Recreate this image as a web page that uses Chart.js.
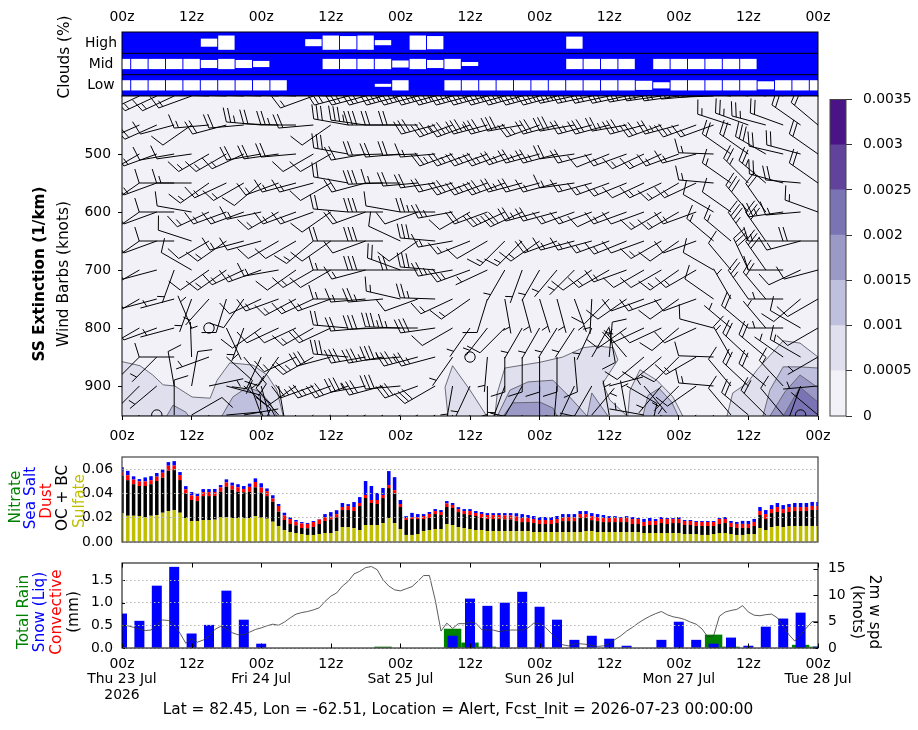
<!DOCTYPE html>
<html>
<head>
<meta charset="utf-8">
<title>Alert forecast</title>
<script src="https://cdn.jsdelivr.net/npm/chart.js@4"></script>
<style>
  html, body { margin: 0; background: #fff; }
  #page { position: relative; width: 918px; height: 730px; overflow: hidden; }
  canvas { position: absolute; left: 0; top: 0; }
</style>
</head>
<body>
<div id="page">
  <canvas id="clouds" width="918" height="730"></canvas>
  <canvas id="section" width="918" height="730"></canvas>
  <canvas id="colorbar" width="918" height="730"></canvas>
  <canvas id="aerosol" width="918" height="730"></canvas>
  <canvas id="precip" width="918" height="730"></canvas>
</div>
<script>
// cloud fraction every 3 h, percent
const cloudHours = [0,3,6,9,12,15,18,21,24,27,30,33,36,39,42,45,48,51,54,57,60,63,66,69,72,75,78,81,84,87,90,93,96,99,102,105,108,111,114,117,120];
const cloudHigh = [0,0,0,0,0,38,67,0,0,0,0,33,67,62,67,24,0,67,62,0,0,0,0,0,0,0,57,0,0,0,0,0,0,0,0,0,0,0,0,0,0];
const cloudMid = [48,48,48,48,48,38,48,38,29,0,0,0,48,48,48,48,33,48,38,48,19,0,0,0,0,0,48,48,48,48,0,48,48,48,48,48,48,0,0,0,0];
const cloudLow = [48,48,48,48,48,48,48,48,48,48,0,0,0,0,0,14,48,0,0,48,48,48,48,48,48,48,48,48,48,48,43,29,48,48,48,48,48,38,48,48,48];

// extinction contours, [hour, hPa]
const ext05West = [[0,858],[3.1,865],[5.3,881],[7.1,898],[9.1,900],[12.1,919],[15.2,921],[16.4,890],[18.6,860],[22.6,864],[25,881],[26.7,907],[27.8,952],[0,952]];
const ext10WestA = [[7.7,952],[8.8,933],[11,945],[11.5,952]];
const ext10WestB = [[17.2,952],[19.1,919],[21.6,902],[23.8,910],[25.5,929],[26.7,952]];
const ext05Mid = [[56.2,952],[55.7,902],[57,865],[60,907],[62.9,952]];
const ext05Hump = [[64.3,952],[64.7,912],[66,869],[72.1,859],[76,850],[79.5,834],[81.9,831],[84.7,834],[85.5,855],[82.9,895],[84.1,924],[87.1,952]];
const ext10Hump = [[64.7,952],[66.9,907],[70,893],[74.3,890],[77.2,919],[80.2,952]];
const ext10HumpB = [[80.2,952],[81,912],[83.8,952]];
const ext15Hump = [[65.7,952],[67.4,929],[72.1,928],[74.3,938],[75,952]];
const ext05Blob = [[87.2,952],[87.6,907],[89.3,872],[92.2,890],[95,919],[96.7,952]];
const ext10Blob = [[89.8,952],[90.7,916],[92.6,904],[94.8,928],[95.9,952]];
const ext05East = [[104.3,952],[105.3,912],[107.8,895],[109.5,872],[114,822],[116.9,826],[120,850],[120,952]];
const ext10East = [[110.5,952],[111.7,907],[114,867],[116.9,867],[120,869],[120,952]];
const ext15East = [[111.7,952],[114.3,910],[116.9,881],[120,903],[120,952]];
const ext20East = [[114,952],[116.9,902],[120,928],[120,952]];
const extBackground = [[0,400],[120,400],[120,952],[0,952]];

// wind barbs on a 3 h / 50 hPa grid: compass bearing of the staff and speed in knots
const dir400 = [245,245,245,245,250,272,272,272,272,272,272,250,272,255,255,255,255,255,255,255,255,255,255,255,255,255,258,258,258,258,260,262,262,265,268,275,278,280,285,290,300];
const spd400 = [15,15,15,15,15,15,15,20,20,20,20,15,20,30,30,30,35,35,35,35,35,35,35,35,35,35,35,30,30,30,30,25,25,25,20,15,15,15,15,15,15];
const dir450 = [245,246,246,255,235,265,255,265,275,272,270,265,235,280,278,270,270,270,255,250,250,255,255,260,250,255,260,255,255,260,255,250,255,250,250,288,290,285,290,305,310];
const spd450 = [15,15,20,10,10,15,20,20,25,20,25,20,10,30,35,30,20,20,30,35,35,35,30,30,25,30,30,25,30,25,30,30,25,25,15,15,25,25,20,20,20];
const dir500 = [240,240,250,260,262,240,240,245,260,262,265,240,240,280,260,268,265,268,265,250,250,250,250,252,255,255,262,255,248,250,245,245,250,255,272,305,305,300,283,285,305];
const spd500 = [15,15,15,10,10,15,15,15,20,20,20,10,10,30,20,20,20,20,15,25,25,25,25,25,25,25,20,20,10,15,15,15,15,15,15,20,20,30,20,20,20];
const dir550 = [235,235,250,270,270,235,245,240,230,250,255,255,240,280,255,268,270,265,262,255,250,250,250,255,255,255,262,255,250,248,245,245,240,245,275,305,315,310,285,275,305];
const spd550 = [10,10,15,10,15,15,15,15,10,15,15,15,10,20,20,30,15,20,20,20,30,25,30,25,20,15,15,15,15,15,10,15,15,15,15,15,25,25,20,20,20];
const dir600 = [235,235,250,270,280,245,250,250,258,240,250,250,235,275,250,270,280,250,270,260,240,250,245,245,255,255,250,250,245,250,250,240,240,250,300,305,320,325,262,265,290];
const spd600 = [10,10,10,10,10,15,15,15,15,15,15,15,10,20,20,30,10,10,25,25,10,20,25,30,25,20,15,15,10,15,10,15,15,15,10,10,30,20,25,15,15];
const dir650 = [235,235,250,270,288,240,235,255,255,240,240,230,235,270,250,270,295,235,275,260,248,240,225,225,235,250,255,255,250,248,250,240,235,250,310,310,325,325,270,255,270];
const spd650 = [10,10,10,10,10,10,15,15,10,10,10,15,10,20,10,30,10,10,30,15,15,10,15,15,15,20,15,15,15,15,10,15,10,10,15,15,35,30,15,15,20];
const dir700 = [240,240,255,200,300,235,235,245,250,260,235,240,240,270,255,270,290,270,275,260,250,245,210,200,210,220,225,235,240,250,240,240,235,240,300,320,335,325,270,245,255];
const spd700 = [10,10,10,5,10,10,15,15,15,15,10,15,10,15,15,30,20,20,30,25,25,5,5,5,5,5,5,10,15,15,10,10,15,15,10,10,30,30,10,10,10];
const dir750 = [240,240,255,255,200,222,197,215,245,250,242,245,250,270,265,265,283,250,272,245,235,197,170,165,163,165,160,183,225,235,250,250,235,250,305,330,325,320,270,230,240];
const spd750 = [10,10,10,5,5,5,10,10,10,15,15,15,15,15,15,25,15,10,25,15,15,10,5,5,5,5,5,5,10,10,10,15,10,10,10,5,25,20,5,10,10];
const dir800 = [240,240,250,255,337,0,155,200,235,245,245,240,245,275,265,268,272,270,262,240,215,218,225,210,210,212,213,205,170,235,245,245,230,245,285,310,310,320,270,300,240];
const spd800 = [10,10,10,5,5,0,5,5,10,10,10,15,20,20,20,30,35,15,30,10,5,5,10,5,5,5,5,5,10,10,10,10,10,10,10,5,20,5,5,10,10];
const dir850 = [225,225,225,270,358,250,132,140,205,215,245,240,255,275,260,260,265,255,255,215,0,185,180,180,180,180,175,30,5,320,230,230,225,240,272,330,313,310,305,300,240];
const spd850 = [5,5,5,10,5,5,10,10,10,10,15,25,30,30,30,35,35,35,25,5,0,5,10,10,10,10,10,5,10,5,10,10,10,15,10,15,20,20,5,15,5];
const dir900 = [225,225,230,350,10,78,105,130,165,170,235,250,250,250,260,255,265,250,240,190,205,180,200,210,180,185,205,210,75,120,140,220,225,235,275,320,313,310,317,200,265];
const spd900 = [5,5,5,10,10,5,10,10,10,10,15,25,25,30,35,30,30,30,30,5,5,5,5,10,10,10,10,10,5,10,5,5,5,10,15,10,20,20,15,10,5];
const dir950 = [225,225,0,0,60,200,85,80,340,320,225,230,235,235,240,235,240,240,235,200,200,190,190,200,190,190,200,40,350,350,280,220,225,230,200,320,310,315,320,0,310];
const spd950 = [5,5,0,10,10,5,10,5,5,10,20,25,25,25,25,25,25,25,25,5,5,5,5,5,5,5,5,5,5,5,5,5,5,5,5,10,20,20,10,0,5];
const barbLevels = [400,450,500,550,600,650,700,750,800,850,900,950];
const barbDirs = [dir400,dir450,dir500,dir550,dir600,dir650,dir700,dir750,dir800,dir850,dir900,dir950];
const barbSpeeds = [spd400,spd450,spd500,spd550,spd600,spd650,spd700,spd750,spd800,spd850,spd900,spd950];

const colorbarTicks = ['0','0.0005','0.001','0.0015','0.002','0.0025','0.003','0.0035'];
const colorbarSteps = [0,0.0005,0.001,0.0015,0.002,0.0025,0.003,0.0035];

// hourly aerosol extinction in 1e-3 /km
const sulfate = [23.6,21.6,21.6,21.4,20.3,21.6,22.2,24.1,25.5,26.3,
  24.1,19.7,17.3,17.3,18.1,18.1,18.4,20.6,20.3,19.7,
  19.7,19.5,19.7,21.4,20.0,19.2,16.7,13.2,9.9,8.2,
  7.4,6.6,5.8,5.8,6.6,7.4,7.4,9.0,12.3,12.3,
  11.5,9.9,14,14,14,15.6,19.7,15.6,10.7,5.8,
  5.8,6.6,9,9.9,10.7,10.7,14.8,14,12.3,11.5,
  10.7,9.9,9.9,9,9,9,9,9,9,9,
  9,8.2,8.2,8.2,8.2,8.2,8.2,8.2,8.2,8.2,
  9,9,8.2,8.2,8.2,8.2,8.2,8.2,8.2,8.2,
  7.4,7.4,7.4,7.4,7.4,7.4,7.4,6.6,6.6,6.6,
  5.8,5.8,6.6,7.4,7.4,6.6,5.8,5.8,6.6,6.6,
  11.5,9.9,12.3,13.2,12.3,13.2,13.2,13.2,13.2,13.2,13.2];
const ocBc = [30.7,29.3,26,24.7,25.8,26,28,28.8,33.2,32.9,
  26.9,20.3,17.3,16.4,19.7,19.7,19.5,20.8,25.2,23.4,
  21.6,21.4,21.6,23.6,20.7,18.6,16.4,11.8,8.2,6.6,
  6.3,4.9,5.5,6.6,8.2,9.9,11.2,11.2,14,14,
  14,19.7,22.2,18.1,17.3,20.6,24.7,24.4,18.1,12.3,
  13.2,12.3,9.9,9.9,12.3,11.5,14,14,12.3,11.5,
  11.5,11.5,9.9,9.9,9.9,9.9,9.6,9.6,8.2,7.4,
  7.4,7.4,6.6,6.6,6.6,7.4,9,9,9,11.5,
  10.7,9,9,8.2,8.2,8.2,8.2,8.2,6.6,6.6,
  5.8,6.6,6.6,8.2,7.4,8.2,8.2,7.4,7.4,6.6,
  7.4,7.4,6.6,7.4,8.2,5.8,5.8,5.8,4.9,6.6,
  10.7,9,11.5,11.5,11.5,11.5,12.3,12.3,12.3,13.2,13.2];
const dust = [3.6,4.1,3.8,3.8,3.8,3.3,3.6,4.1,4.1,3.8,
  4.1,3.3,3.8,4.1,3.3,3.3,3.3,3.6,3.6,3.3,
  3.8,2.7,4.1,4.4,4.1,4.1,2.7,4.7,3.8,4.1,
  3,3.8,3.6,4.1,3.8,3,2.2,2.7,2.5,3.3,
  3.3,2.5,2.5,2.5,3.3,2.5,2.5,2.7,2.5,1.6,
  1.4,1.4,2.5,3.3,2.5,2.5,3,2.5,2.5,2.5,
  3.3,2.5,3.3,3.3,3.3,3.3,3.3,3.3,3.8,3.3,
  3.3,3.3,3.3,3.3,3.3,3.3,3.3,3.3,3.3,3.3,
  3.3,3.3,3.3,3.3,3.3,3.3,3.3,3.3,4.1,4.1,
  3.3,3.3,3.3,3.3,4.1,3.3,3.3,3.3,3.3,3.3,
  3.3,3.3,3.3,4.1,3.3,3.3,3.3,3.3,3.3,3.3,
  3.3,4.1,3.3,4.1,3.3,4.1,3.3,3.3,3.3,3.3,3.3];
const seaSalt = [3.6,3.6,2.7,1.9,3.3,3.3,3,2.7,3,3.6,
  2.5,2.7,2.7,1.9,2.5,2.5,2.5,1.9,2.5,2.5,
  2.5,2.5,2.7,3,3.6,2.2,2.7,1.6,2.2,1.4,
  1.4,1.1,.8,.8,.3,2.7,3.8,3.3,3.3,1.6,
  4.1,4.9,11.5,11.5,5.8,5.8,11.5,10.7,3.3,1.6,
  3.6,2.7,1.6,1.6,1.6,1.6,1.9,1.6,1.6,1.6,
  1.6,1.6,1.6,1.6,1.6,1.6,1.9,1.9,2.7,3.3,
  2.5,2.5,2.5,2.5,2.5,2.5,2.5,2.5,2.5,2.5,
  2.5,2.5,2.5,2.5,1.6,1.6,.8,1.6,1.6,.8,
  2.5,2.5,1.6,1.6,.8,.8,1.6,.8,.8,.8,
  .8,.8,.8,.8,1.6,1.6,1.6,2.5,2.5,2.5,
  3.3,3.3,3.3,3.3,3.3,2.5,3.3,3.3,3.3,3.3,3.3];
const nitrate = [0,0,0,0,0,0,0,0,0,0,0,0,0,0,0,0,0,0,0,0,0,0,0,0,0,0,0,0,0,0,
  0,0,0,0,0,0,0,0,0,0,0,0,0,0,0,0,0,0,0,0,0,0,0,0,0,0,0,0,0,0,
  0,0,0,0,0,0,0,0,0,0,0,0,0,0,0,0,0,0,0,0,0,0,0,0,0,0,0,0,0,0,
  0,0,0,0,0,0,0,0,0,0,0,0,0,0,0,0,0,0,0,0,0,0,0,0,0,0,0,0,0,0,0];

// 3-hourly precipitation in mm
const totalRain = [0,0,0,0,0,0,0,0,0,0,0,0,0,0,0,0.03,0,0,0,0.425,0.12,0.03,0,0,0,0,0,0,0,0,0,0,0,0,0.295,0.03,0,0,0,0.07,0.03];
const snowLiq = [0.76,0.6,1.375,1.79,0.32,0.51,1.265,0.625,0.095,0,0,0,0,0,0,0,0,0,0,0.27,1.09,0.93,1,1.24,0.91,0.625,0.18,0.27,0.205,0.05,0,0.18,0.58,0.18,0.095,0.23,0.05,0.47,0.65,0.78,0.03];
const convective = [0,0,0,0,0,0,0,0,0,0,0,0,0,0,0,0,0,0,0,0,0,0,0,0,0,0,0,0,0,0,0,0,0,0,0,0,0,0,0,0,0];

// hourly 2 m wind speed in knots
const windSpeed = [4.2,4.2,3.9,3.6,3.3,3.4,4.4,5.3,5.2,4.3,
  2.8,0.9,1.8,1.1,1.5,2.2,3.5,4.1,3.7,2.9,
  2.5,2.5,3.0,3.5,3.8,4.2,4.5,4.3,4.9,5.7,
  6.4,6.7,6.9,7.2,7.6,8.8,9.8,10.4,11.7,12.6,
  14.0,14.5,15.2,15.4,14.8,12.9,11.7,11.0,10.8,11.2,
  11.6,12.6,13.7,13.7,9.1,3.2,4.7,3.7,4.6,4.6,
  4.9,4.7,3.5,3.4,3.4,3.1,3.3,3.4,3.4,3.4,
  3.8,4.7,4.6,3.9,2.8,1.6,0.6,0.4,0.8,0.8,
  0.7,0.5,0.3,0.4,0.8,1.6,2.3,3.2,3.9,4.7,
  5.4,6.0,6.5,6.9,6.3,5.9,5.7,5.4,4.9,4.5,
  3.6,2.1,2.3,6.0,6.8,7.1,7.3,8.0,6.8,6.2,
  6.1,6.3,6.4,5.7,4.1,2.5,1.3,2.5,3.8,5.0,5.0];

const dayLabels = ['Thu 23 Jul','Fri 24 Jul','Sat 25 Jul','Sun 26 Jul','Mon 27 Jul','Tue 28 Jul'];

const FONT = '"DejaVu Sans", sans-serif';
const WIDTH = 918;
const HEIGHT = 730;
Chart.defaults.font.family = FONT;
Chart.defaults.font.size = 13.9;
Chart.defaults.color = '#000';
Chart.defaults.animation = false;
Chart.defaults.responsive = false;
Chart.defaults.devicePixelRatio = 1;
Chart.defaults.plugins.legend.display = false;
Chart.defaults.plugins.tooltip.enabled = false;

const hourTick = v => (v % 24 === 0 ? '00z' : '12z');
const asXY = list => list.map(p => ({ x: p[0], y: p[1] }));
// axis boxes span from the plot edge to the canvas edge, so labels are not clipped
const boxSize = size => scale => {
  if (scale.isHorizontal()) scale.height = size;
  else scale.width = size;
};
const PLOT_LEFT = 122;
const PLOT_RIGHT = 818;

// outline around the plot area, plus the free text of each panel
const panelDecor = {
  id: 'panelDecor',
  beforeDatasetsDraw(chart, args, opts) {
    if (!opts.fill) return;
    const { ctx, chartArea: a } = chart;
    ctx.save();
    ctx.fillStyle = opts.fill;
    ctx.fillRect(a.left, a.top, a.width, a.height);
    ctx.restore();
  },
  afterDraw(chart, args, opts) {
    const { ctx, chartArea: a, scales } = chart;
    ctx.save();
    ctx.strokeStyle = opts.frame || '#000';
    ctx.lineWidth = opts.frameWidth || 1;
    ctx.strokeRect(a.left, a.top, a.width, a.height);
    (opts.rules || []).forEach(v => {
      const y = scales.y.getPixelForValue(v);
      ctx.beginPath();
      ctx.moveTo(a.left, y);
      ctx.lineTo(a.right, y);
      ctx.stroke();
    });
    (opts.texts || []).forEach(t => {
      ctx.save();
      ctx.translate(t.x, t.y);
      ctx.rotate(((t.angle || 0) * Math.PI) / 180);
      ctx.textAlign = 'center';
      ctx.textBaseline = 'middle';
      ctx.fillStyle = t.color || '#000';
      ctx.font = `${t.weight || 'normal'} ${t.size || 15.3}px ${FONT}`;
      ctx.fillText(t.text, 0, 0);
      ctx.restore();
    });
    ctx.restore();
  },
};

// fills each contour polygon from the points the line dataset resolved
const contourFill = {
  id: 'contourFill',
  beforeDatasetDraw(chart, args) {
    const { ctx, chartArea: a } = chart;
    const ds = chart.data.datasets[args.index];
    if (!ds.bandColor) return;
    ctx.save();
    ctx.beginPath();
    ctx.rect(a.left, a.top, a.width, a.height);
    ctx.clip();
    ctx.beginPath();
    args.meta.data.forEach((pt, i) => (i ? ctx.lineTo(pt.x, pt.y) : ctx.moveTo(pt.x, pt.y)));
    ctx.closePath();
    ctx.fillStyle = ds.bandColor;
    ctx.fill();
    ctx.restore();
  },
};

// wind barbs, staff pointing upwind, feathers at the far end of the staff
const STAFF = 35;
const windBarbs = {
  id: 'windBarbs',
  afterDatasetsDraw(chart) {
    const { ctx, chartArea: a, scales } = chart;
    ctx.save();
    ctx.beginPath();
    ctx.rect(a.left, a.top, a.width, a.height);
    ctx.clip();
    ctx.strokeStyle = '#000';
    ctx.lineWidth = 1;
    barbLevels.forEach((level, r) => {
      const y0 = scales.y.getPixelForValue(level);
      cloudHours.forEach((hour, c) => {
        const x0 = scales.x.getPixelForValue(hour);
        const speed = barbSpeeds[r][c];
        ctx.beginPath();
        if (speed === 0) {
          ctx.arc(x0, y0, 5.2, 0, 2 * Math.PI);
          ctx.stroke();
          return;
        }
        const th = (barbDirs[r][c] * Math.PI) / 180;
        const dx = Math.sin(th);
        const dy = -Math.cos(th);
        const nx = -dy;
        const ny = dx;
        ctx.moveTo(x0, y0);
        ctx.lineTo(x0 + dx * STAFF, y0 + dy * STAFF);
        const gap = 0.125 * STAFF;
        const full = 0.4 * STAFF;
        let off = STAFF;
        const feather = (pos, h, w) => {
          const px = x0 + dx * pos;
          const py = y0 + dy * pos;
          ctx.moveTo(px, py);
          ctx.lineTo(px + nx * h + dx * w, py + ny * h + dy * w);
        };
        const tens = Math.floor(speed / 10);
        for (let i = 0; i < tens; i++) {
          feather(off, full, gap);
          off -= gap;
        }
        if (speed % 10 >= 5) {
          if (tens === 0) off -= 1.5 * gap;
          feather(off, full / 2, gap / 2);
        }
        ctx.stroke();
      });
    });
    ctx.restore();
  },
};

// tick marks pointing into the plot area
const inwardTicks = {
  id: 'inwardTicks',
  afterDatasetsDraw(chart) {
    const { ctx, chartArea: a, scales } = chart;
    ctx.save();
    ctx.strokeStyle = '#000';
    ctx.lineWidth = 1;
    ctx.beginPath();
    scales.x.ticks.forEach(t => {
      const x = Math.round(scales.x.getPixelForValue(t.value)) + 0.5;
      ctx.moveTo(x, a.top);
      ctx.lineTo(x, a.top + 4.5);
      ctx.moveTo(x, a.bottom);
      ctx.lineTo(x, a.bottom - 4.5);
    });
    scales.y.ticks.forEach(t => {
      const y = Math.round(scales.y.getPixelForValue(t.value)) + 0.5;
      ctx.moveTo(a.left, y);
      ctx.lineTo(a.left + 3, y);
    });
    scales.y1.ticks.forEach(t => {
      const y = Math.round(scales.y1.getPixelForValue(t.value)) + 0.5;
      ctx.moveTo(a.right, y);
      ctx.lineTo(a.right - 4.5, y);
    });
    ctx.stroke();
    ctx.restore();
  },
};

const rowBars = (values, center) =>
  values
    .map((pct, i) => ({ x: cloudHours[i], y: [center - pct / 200, center + pct / 200], pct }))
    .filter(b => b.pct > 0);

new Chart(document.getElementById('clouds'), {
  type: 'bar',
  data: {
    datasets: [cloudHigh, cloudMid, cloudLow].map((values, i) => ({
      data: rowBars(values, 2.5 - i),
      backgroundColor: '#fff',
      barThickness: 16.4,
      inflateAmount: 0,
      grouped: false,
    })),
  },
  options: {
    layout: { padding: { right: WIDTH - PLOT_RIGHT, bottom: HEIGHT - 96 } },
    scales: {
      x: {
        type: 'linear', position: 'top', min: 0, max: 120, offset: false,
        afterFit: boxSize(32),
        grid: { display: false }, border: { display: false },
        ticks: { stepSize: 12, callback: hourTick, padding: -2, maxRotation: 0, autoSkip: false },
      },
      y: {
        min: 0, max: 3,
        afterFit: boxSize(PLOT_LEFT),
        grid: { display: false }, border: { display: false },
        ticks: { display: false },
      },
    },
    plugins: {
      panelDecor: {
        fill: '#0000ff',
        rules: [1, 2],
        texts: [
          { text: 'Clouds (%)', x: 65, y: 57, angle: -90 },
          { text: 'High', x: 101, y: 43, size: 13.9 },
          { text: 'Mid', x: 101, y: 64, size: 13.9 },
          { text: 'Low', x: 101, y: 85, size: 13.9 },
        ],
      },
    },
  },
  plugins: [panelDecor],
});

const contourSet = (points, color) => ({
  data: asXY(points),
  showLine: true,
  pointRadius: 0,
  borderColor: '#5d5d6a',
  borderWidth: 0.9,
  bandColor: color,
});
const BAND1 = '#e0dfee';
const BAND2 = '#bfbfde';
const BAND3 = '#9b99c6';
const BAND4 = '#7a74b5';

new Chart(document.getElementById('section'), {
  type: 'scatter',
  data: {
    datasets: [
      contourSet(ext20East, BAND4),
      contourSet(ext15East, BAND3),
      contourSet(ext15Hump, BAND3),
      contourSet(ext10East, BAND2),
      contourSet(ext10Blob, BAND2),
      contourSet(ext10HumpB, BAND2),
      contourSet(ext10Hump, BAND2),
      contourSet(ext10WestB, BAND2),
      contourSet(ext10WestA, BAND2),
      contourSet(ext05East, BAND1),
      contourSet(ext05Blob, BAND1),
      contourSet(ext05Hump, BAND1),
      contourSet(ext05Mid, BAND1),
      contourSet(ext05West, BAND1),
      { ...contourSet(extBackground, '#f3f1f8'), borderWidth: 0 },
    ],
  },
  options: {
    layout: { padding: { top: 96, right: WIDTH - PLOT_RIGHT } },
    scales: {
      x: {
        type: 'linear', min: 0, max: 120,
        afterFit: boxSize(HEIGHT - 416),
        border: { display: false },
        grid: { drawOnChartArea: false, tickLength: 4, color: '#000' },
        ticks: { stepSize: 12, callback: hourTick, padding: 8, maxRotation: 0, autoSkip: false },
      },
      y: {
        reverse: true, min: 400, max: 951.7,
        afterFit: boxSize(PLOT_LEFT),
        afterBuildTicks: s => { s.ticks = s.ticks.filter(t => t.value % 100 === 0 && t.value > 400); },
        border: { display: false },
        grid: { drawOnChartArea: false, tickLength: 4, color: '#000' },
        ticks: { stepSize: 100, padding: 7 },
      },
    },
    plugins: {
      panelDecor: {
        texts: [
          { text: 'SS Extinction (1/km)', x: 40, y: 274, angle: -90, weight: 'bold' },
          { text: 'Wind Barbs (knots)', x: 64, y: 274, angle: -90 },
        ],
      },
    },
  },
  plugins: [contourFill, windBarbs, panelDecor],
});

const colorbarColors = ['#f3f1f8', '#e0dfee', '#bfbfde', '#9b99c6', '#7a74b5', '#62439c', '#4a1486'];
new Chart(document.getElementById('colorbar'), {
  type: 'bar',
  data: {
    labels: [''],
    datasets: colorbarColors.map((color, i) => ({
      data: [[colorbarSteps[i], colorbarSteps[i + 1]]],
      backgroundColor: color,
      barPercentage: 1,
      categoryPercentage: 1,
      grouped: false,
    })),
  },
  options: {
    layout: { padding: { left: 830, top: 99.5, bottom: HEIGHT - 416 } },
    scales: {
      x: { afterFit: boxSize(0), grid: { display: false }, border: { display: false }, ticks: { display: false } },
      y: {
        position: 'right', min: 0, max: 0.0035,
        afterFit: boxSize(WIDTH - 846),
        border: { display: false },
        grid: { drawOnChartArea: false, tickLength: 6, color: '#333' },
        ticks: { stepSize: 0.0005, padding: 11, callback: (v, i) => colorbarTicks[i] },
      },
    },
    plugins: { panelDecor: { frame: '#444' } },
  },
  plugins: [panelDecor],
});

const aerosolSet = (values, color) => ({
  data: values.map((v, i) => ({ x: i, y: v / 1000 })),
  backgroundColor: color,
  barThickness: 3.5,
  inflateAmount: 0,
});

new Chart(document.getElementById('aerosol'), {
  type: 'bar',
  data: {
    datasets: [
      aerosolSet(sulfate, '#bfbf00'),
      aerosolSet(ocBc, '#000'),
      aerosolSet(dust, '#ff0000'),
      aerosolSet(seaSalt, '#0000ff'),
      aerosolSet(nitrate, '#008000'),
    ],
  },
  options: {
    layout: { padding: { top: 457, right: WIDTH - PLOT_RIGHT, bottom: HEIGHT - 542 } },
    scales: {
      x: {
        type: 'linear', min: 0, max: 120, stacked: true, offset: false,
        afterFit: boxSize(0),
        grid: { display: false }, border: { display: false }, ticks: { display: false },
      },
      y: {
        min: 0, max: 0.07, stacked: true,
        afterFit: boxSize(PLOT_LEFT),
        border: { display: false, dash: [1.5, 2.5] },
        grid: { color: '#b5b5b5', z: 1, tickLength: 0 },
        ticks: { stepSize: 0.02, padding: 9, autoSkip: false, includeBounds: false, callback: v => v.toFixed(2) },
      },
    },
    plugins: {
      panelDecor: {
        frame: '#444',
        frameWidth: 1.2,
        texts: [
          { text: 'Nitrate', x: 16, y: 497, angle: -90, color: '#008000' },
          { text: 'Sea Salt', x: 31, y: 498, angle: -90, color: '#0000ff' },
          { text: 'Dust', x: 47, y: 501, angle: -90, color: '#ff0000' },
          { text: 'OC + BC', x: 63, y: 498, angle: -90 },
          { text: 'Sulfate', x: 80, y: 501, angle: -90, color: '#bfbf00' },
        ],
      },
    },
  },
  plugins: [panelDecor],
});

const precipSet = (values, color, width, order) => ({
  data: values.map((v, i) => ({ x: cloudHours[i], y: v })),
  backgroundColor: color,
  barThickness: width,
  inflateAmount: 0,
  grouped: false,
  order,
});

new Chart(document.getElementById('precip'), {
  type: 'bar',
  data: {
    datasets: [
      precipSet(totalRain, '#008000', 17.4, 3),
      precipSet(snowLiq, '#0000ff', 10, 2),
      precipSet(convective, '#ff0000', 5, 1),
      {
        type: 'line',
        data: windSpeed.map((v, i) => ({ x: i, y: v })),
        yAxisID: 'y1',
        borderColor: '#333',
        borderWidth: 0.8,
        pointRadius: 0,
        tension: 0,
        order: 0,
      },
    ],
  },
  options: {
    layout: { padding: { top: 563 } },
    scales: {
      x: {
        type: 'linear', min: 0, max: 120, offset: false,
        afterFit: boxSize(HEIGHT - 648),
        grid: { display: false }, border: { display: false },
        ticks: {
          stepSize: 12, padding: 0, maxRotation: 0, autoSkip: false,
          font: { lineHeight: 1.14 },
          callback: v => {
            if (v === 0) return ['00z', dayLabels[0], '2026'];
            if (v % 24 === 0) return ['00z', dayLabels[v / 24]];
            return '12z';
          },
        },
      },
      y: {
        min: 0, max: 1.875,
        afterFit: boxSize(PLOT_LEFT),
        border: { display: false, dash: [1.5, 2.5] },
        grid: { color: '#b5b5b5', z: 1, tickLength: 0 },
        ticks: { stepSize: 0.5, padding: 9, autoSkip: false, includeBounds: false, callback: v => v.toFixed(1) },
      },
      y1: {
        position: 'right', min: 0, max: 16.07,
        afterFit: boxSize(WIDTH - PLOT_RIGHT),
        border: { display: false },
        grid: { display: false, drawOnChartArea: false },
        ticks: { stepSize: 5, padding: 2, autoSkip: false, includeBounds: false },
      },
    },
    plugins: {
      panelDecor: {
        texts: [
          { text: 'Total Rain', x: 24, y: 612, angle: -90, color: '#008000' },
          { text: 'Snow (Liq)', x: 40, y: 612, angle: -90, color: '#0000ff' },
          { text: 'Convective', x: 57, y: 612, angle: -90, color: '#ff0000' },
          { text: '(mm)', x: 74, y: 612, angle: -90 },
          { text: '2m w spd', x: 874, y: 612, angle: 90 },
          { text: '(knots)', x: 857, y: 612, angle: 90 },
          { text: 'Lat = 82.45, Lon = -62.51, Location = Alert, Fcst_Init = 2026-07-23 00:00:00', x: 458, y: 710 },
        ],
      },
    },
  },
  plugins: [inwardTicks, panelDecor],
});
</script>
</body>
</html>
